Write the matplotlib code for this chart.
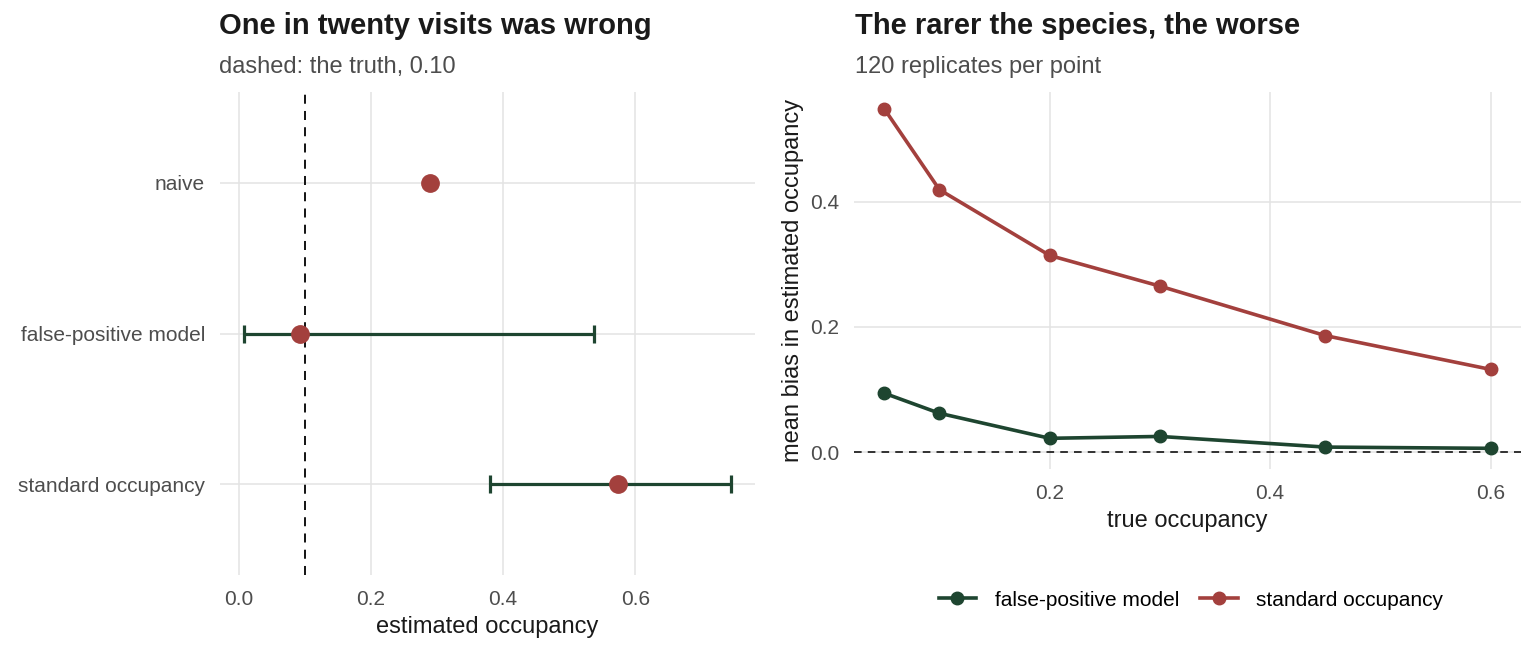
import matplotlib
matplotlib.use("Agg")
import matplotlib.pyplot as plt
from matplotlib.lines import Line2D

plt.rcParams['font.family'] = ['Liberation Sans', 'DejaVu Sans']

# left panel: estimates of occupancy, truth is 0.10
methods = ["naive", "false-positive model", "standard occupancy"]
estimates = [0.29, 0.093, 0.574]
ci_low = [None, 0.009, 0.381]
ci_high = [None, 0.538, 0.744]
truth = 0.10

# right panel: mean bias vs true occupancy
true_occ = [0.05, 0.1, 0.2, 0.3, 0.45, 0.6]
bias_fp = [0.094, 0.062, 0.022, 0.025, 0.008, 0.006]
bias_std = [0.548, 0.419, 0.314, 0.265, 0.186, 0.132]

RED = "#A3403D"
GREEN = "#1E4530"
GRID = "#E3E3E3"
TXT = "#1A1A1A"
TICK = "#4D4D4D"

W, H = 1536, 652
fig = plt.figure(figsize=(W / 100, H / 100), dpi=100)


def px_axes(x0, y0, x1, y1):
    return fig.add_axes([x0 / W, 1 - y1 / H, (x1 - x0) / W, (y1 - y0) / H])


def style(ax):
    for s in ax.spines.values():
        s.set_visible(False)
    ax.grid(True, color=GRID, lw=1.1)
    ax.set_axisbelow(True)
    ax.tick_params(length=0, labelsize=15, labelcolor=TICK)
    ax.tick_params(axis="x", pad=11)
    ax.tick_params(axis="y", pad=10.8)


# ---- left panel
ax1 = px_axes(220, 92, 755, 575)
style(ax1)
ypos = list(range(len(methods)))
ax1.axvline(truth, color="black", lw=1.3, ls=(0, (5, 4)), zorder=2)
for i, m in enumerate(methods):
    if ci_low[i] is not None:
        ax1.errorbar(estimates[i], i, xerr=[[estimates[i] - ci_low[i]], [ci_high[i] - estimates[i]]],
                     fmt="none", ecolor=GREEN, elinewidth=2.3, capsize=6.5, capthick=2.3, zorder=3)
    ax1.plot(estimates[i], i, "o", color=RED, ms=12.5, zorder=4)
ax1.set_yticks(ypos)
ax1.set_yticklabels(methods)
ax1.set_ylim(2.6, -0.6)
ax1.set_xlim(-0.028, 0.781)
ax1.set_xticks([0.0, 0.2, 0.4, 0.6])
ax1.set_xticklabels(["0.0", "0.2", "0.4", "0.6"])
ax1.set_xlabel("estimated occupancy", fontsize=17, color=TXT, labelpad=5)
fig.text(219 / W, 1 - 34 / H, "One in twenty visits was wrong", fontsize=21, fontweight="bold",
         color=TXT, va="baseline", ha="left")
fig.text(219 / W, 1 - 73 / H, "dashed: the truth, 0.10", fontsize=17, color=TICK,
         va="baseline", ha="left")

# ---- right panel
ax2 = px_axes(854, 92, 1521, 469)
style(ax2)
ax2.axhline(0, color="black", lw=1.1, ls=(0, (5, 4)), zorder=2)
ax2.plot(true_occ, bias_fp, "-o", color=GREEN, lw=2.6, ms=9, zorder=3)
ax2.plot(true_occ, bias_std, "-o", color=RED, lw=2.6, ms=9, zorder=3)
ax2.set_xlim(0.0225, 0.6275)
ax2.set_ylim(-0.027, 0.575)
ax2.set_xticks([0.2, 0.4, 0.6])
ax2.set_xticklabels(["0.2", "0.4", "0.6"])
ax2.set_yticks([0.0, 0.2, 0.4])
ax2.set_yticklabels(["0.0", "0.2", "0.4"])
ax2.set_xlabel("true occupancy", fontsize=17, color=TXT, labelpad=5)
ax2.set_ylabel("mean bias in estimated occupancy", fontsize=17, color=TXT, labelpad=4)
fig.text(855 / W, 1 - 34 / H, "The rarer the species, the worse", fontsize=21, fontweight="bold",
         color=TXT, va="baseline", ha="left")
fig.text(855 / W, 1 - 73 / H, "120 replicates per point", fontsize=17, color=TICK,
         va="baseline", ha="left")

handles = [Line2D([], [], color=GREEN, lw=2.6, marker="o", ms=9),
           Line2D([], [], color=RED, lw=2.6, marker="o", ms=9)]
fig.legend(handles, ["false-positive model", "standard occupancy"], loc="center",
           bbox_to_anchor=(1191 / W, 1 - 600 / H), ncol=2, frameon=False, fontsize=15,
           handlelength=1.8, columnspacing=1.0, handletextpad=0.9)

fig.savefig("out.png", dpi=100)
